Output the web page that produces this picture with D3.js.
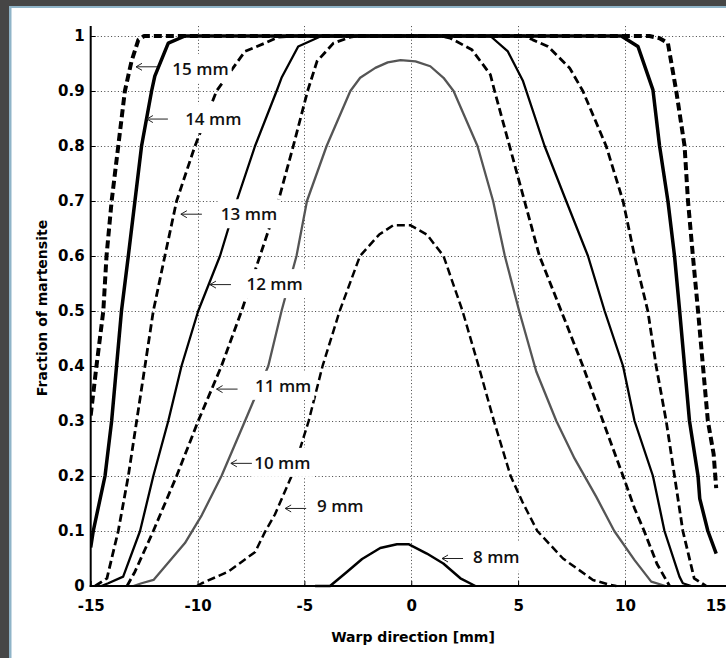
<!DOCTYPE html>
<html lang="en">
<head>
  <meta charset="UTF-8">
  <title>Fraction of martensite</title>
  <script src="https://d3js.org/d3.v7.min.js"></script>
  <style>
    body { margin: 0; background: #fff; }
    .tick text { font-family: 'DejaVu Sans', sans-serif; font-weight: bold; font-size: 15px; fill: #000; }
    .title { font-family: 'DejaVu Sans', sans-serif; font-weight: bold; font-size: 14px; fill: #000; }
    .lbl { font-family: 'Open Sans', sans-serif; font-weight: 600; font-size: 17px; fill: #111; }
  </style>
</head>
<body>
  <svg id="chart" width="726" height="658"></svg>
  <script>
    // curve data (x in mm, y = fraction)
    const x15 = [-15, -14.73, -14.41, -14.26, -14.02, -13.71, -13.4, -13.09, -12.77, -12.5, 11.15, 11.62, 12.01, 12.4, 12.79, 12.95, 13.18, 13.42, 13.65, 13.88, 14.15, 14.27];
    const y15 = [0.31, 0.4, 0.5, 0.6, 0.7, 0.8, 0.9, 0.954, 0.993, 1, 1, 0.996, 0.987, 0.9, 0.8, 0.7, 0.6, 0.5, 0.4, 0.3, 0.24, 0.178];

    const x14 = [-15, -14.88, -14.33, -14.02, -13.79, -13.56, -13.24, -12.93, -12.62, -12.15, -12.0, -11.37, -10.59, 9.83, 10.61, 11.31, 11.62, 12.01, 12.32, 12.56, 12.79, 13.02, 13.42, 13.5, 13.88, 14.27];
    const y14 = [0.07, 0.1, 0.2, 0.3, 0.4, 0.5, 0.6, 0.7, 0.8, 0.9, 0.927, 0.987, 1, 1, 0.981, 0.902, 0.8, 0.7, 0.6, 0.5, 0.4, 0.3, 0.2, 0.159, 0.1, 0.059];

    const x13 = [-14.79, -14.24, -13.71, -13.24, -12.85, -12.46, -12.07, -11.53, -10.98, -10.12, -9.11, -7.78, -6.85, -6.22, -5.5, 5.3, 5.69, 6.4, 7.41, 8.03, 9.12, 9.91, 10.45, 11.07, 11.46, 11.93, 12.32, 12.71, 13.24, 13.79];
    const y13 = [0, 0.014, 0.1, 0.2, 0.3, 0.4, 0.5, 0.6, 0.7, 0.8, 0.9, 0.972, 0.987, 0.998, 1, 1, 0.993, 0.981, 0.942, 0.9, 0.8, 0.7, 0.6, 0.5, 0.4, 0.3, 0.2, 0.1, 0.014, 0];

    const x12 = [-14.5, -14.18, -13.48, -12.69, -12.07, -11.37, -10.75, -9.97, -8.95, -8.17, -7.31, -6.3, -6.07, -5.29, -4.2, 3.7, 4.52, 5.23, 6.24, 7.25, 8.27, 9.05, 9.91, 10.45, 11.31, 11.85, 12.55, 12.71, 13.1];
    const y12 = [0, 0.005, 0.017, 0.1, 0.2, 0.3, 0.4, 0.5, 0.6, 0.7, 0.8, 0.9, 0.924, 0.981, 1, 1, 0.972, 0.918, 0.8, 0.7, 0.6, 0.5, 0.4, 0.3, 0.2, 0.1, 0.017, 0.005, 0];

    const x11 = [-13.3, -12.93, -12.07, -10.98, -9.97, -8.88, -7.94, -7.08, -6.22, -5.52, -4.85, -4.41, -3.64, -2.85, -2.5, 1.4, 1.83, 2.84, 3.7, 3.9, 4.6, 5.3, 6.0, 7.02, 8.03, 8.97, 9.91, 10.45, 10.9, 11.5, 12.09];
    const y11 = [0, 0.026, 0.1, 0.2, 0.3, 0.4, 0.5, 0.6, 0.7, 0.8, 0.9, 0.954, 0.987, 0.998, 1, 1, 0.996, 0.975, 0.93, 0.9, 0.8, 0.7, 0.6, 0.5, 0.4, 0.3, 0.2, 0.141, 0.1, 0.04, 0];

    const x10 = [-13.0, -12.62, -12.06, -10.59, -9.8, -8.88, -7.78, -6.69, -6.07, -5.37, -4.88, -3.96, -2.85, -2.39, -1.68, -1.1, -0.5, 0.2, 0.89, 1.51, 1.98, 3.1, 3.83, 4.38, 5.05, 5.85, 6.79, 7.64, 8.66, 9.5, 10.45, 11.23, 11.9];
    const y10 = [0, 0.005, 0.011, 0.078, 0.129, 0.2, 0.3, 0.4, 0.5, 0.6, 0.7, 0.8, 0.9, 0.924, 0.942, 0.952, 0.956, 0.954, 0.945, 0.924, 0.9, 0.8, 0.7, 0.6, 0.5, 0.39, 0.3, 0.232, 0.162, 0.1, 0.047, 0.008, 0];

    const x9 = [-10.03, -9.8, -8.56, -7.3, -6.85, -6.38, -5.6, -4.8, -4.15, -3.35, -2.4, -1.5, -0.84, -0.05, 0.73, 1.51, 2.4, 3.15, 3.87, 4.65, 5.2, 5.9, 7.1, 8.5, 9.3, 9.6];
    const y9 = [0, 0.005, 0.026, 0.062, 0.098, 0.13, 0.2, 0.3, 0.4, 0.5, 0.6, 0.639, 0.656, 0.656, 0.639, 0.6, 0.5, 0.4, 0.3, 0.2, 0.153, 0.1, 0.05, 0.011, 0.002, 0];

    const x8 = [-4.5, -3.8, -3.0, -2.3, -1.45, -0.67, -0.13, 0.73, 1.5, 2.3, 3.0];
    const y8 = [0, 0, 0.026, 0.049, 0.069, 0.076, 0.076, 0.059, 0.041, 0.014, 0];

    // annotation labels: arrow tip and text anchor (data units)
    const labelText = ['15 mm', '14 mm', '13 mm', '12 mm', '11 mm', '10 mm', '9 mm', '8 mm'];
    const tipX = [-12.88, -12.37, -10.78, -9.42, -9.11, -8.44, -5.90, 1.44];
    const tipY = [0.944, 0.849, 0.676, 0.548, 0.358, 0.223, 0.141, 0.050];
    const textX = [-11.18, -10.58, -8.91, -7.71, -7.31, -7.35, -4.41, 2.89];
    const textY = [0.929, 0.838, 0.665, 0.538, 0.353, 0.213, 0.135, 0.042];

    const xTicks = [-15, -10, -5, 0, 5, 10, 15];
    const yTicks = [0, 0.1, 0.2, 0.3, 0.4, 0.5, 0.6, 0.7, 0.8, 0.9, 1];

    const svg = d3.select('#chart');

    // window frame (dark edge + thin blue line)
    svg.append('rect').attr('x', 0).attr('y', 0).attr('width', 726).attr('height', 658).attr('fill', '#fff');
    svg.append('rect').attr('x', 0).attr('y', 0).attr('width', 726).attr('height', 6).attr('fill', '#464646');
    svg.append('rect').attr('x', 0).attr('y', 0).attr('width', 9).attr('height', 658).attr('fill', '#464646');
    svg.append('rect').attr('x', 9).attr('y', 6).attr('width', 717).attr('height', 2).attr('fill', '#8fb4c8');
    svg.append('rect').attr('x', 9).attr('y', 6).attr('width', 2.5).attr('height', 652).attr('fill', '#8fb4c8');

    const x = d3.scaleLinear().domain([-15, 15]).range([90.7, 731.8]);
    const y = d3.scaleLinear().domain([0, 1]).range([586, 36]);
    const yTop = y(1.018);

    // dotted grid
    const grid = svg.append('g').attr('stroke', '#444').attr('stroke-width', 1).attr('stroke-dasharray', '1,2.4');
    grid.selectAll('.vg').data(xTicks.filter(d => d > -15)).enter().append('line')
      .attr('x1', d => Math.round(x(d)) + 0.5).attr('x2', d => Math.round(x(d)) + 0.5)
      .attr('y1', yTop).attr('y2', y(0));
    grid.selectAll('.hg').data(yTicks.filter(d => d > 0)).enter().append('line')
      .attr('y1', d => Math.round(y(d)) + 0.5).attr('y2', d => Math.round(y(d)) + 0.5)
      .attr('x1', x(-15)).attr('x2', x(15));

    // curves
    const series = [
      { xs: x8, ys: y8, color: '#000', w: 2.5, dash: null },
      { xs: x9, ys: y9, color: '#000', w: 2.5, dash: '8,4' },
      { xs: x10, ys: y10, color: '#555', w: 2.3, dash: null },
      { xs: x11, ys: y11, color: '#000', w: 2.8, dash: '8,4' },
      { xs: x12, ys: y12, color: '#000', w: 2.3, dash: null },
      { xs: x13, ys: y13, color: '#000', w: 2.8, dash: '8,4' },
      { xs: x14, ys: y14, color: '#000', w: 3.5, dash: null },
      { xs: x15, ys: y15, color: '#000', w: 4, dash: '8,4' }
    ];

    svg.append('clipPath').attr('id', 'plotclip').append('rect')
      .attr('x', x(-15)).attr('y', 20).attr('width', x(15) - x(-15)).attr('height', 570);

    const line = d3.line().x(d => x(d[0])).y(d => y(d[1]));
    svg.append('g').attr('clip-path', 'url(#plotclip)')
      .selectAll('path').data(series).enter().append('path')
      .attr('d', s => line(s.xs.map((v, i) => [v, s.ys[i]])))
      .attr('fill', 'none')
      .attr('stroke', s => s.color)
      .attr('stroke-width', s => s.w)
      .attr('stroke-dasharray', s => s.dash)
      .attr('stroke-linejoin', 'round');

    // labels with white background and arrows
    const lg = svg.append('g');
    labelText.forEach((t, i) => {
      const g = lg.append('g');
      const bg = g.append('rect').attr('fill', '#fff');
      const txt = g.append('text').attr('class', 'lbl')
        .attr('x', x(textX[i])).attr('y', y(textY[i])).text(t);
      const bb = txt.node().getBBox();
      bg.attr('x', bb.x - 3).attr('y', bb.y - 3).attr('width', bb.width + 6).attr('height', bb.height + 6);

      const tx = x(tipX[i]), ty = y(tipY[i]);
      g.append('path')
        .attr('d', `M${tx},${ty}H${tx + 21}M${tx + 6},${ty - 3.5}L${tx},${ty}L${tx + 6},${ty + 3.5}`)
        .attr('fill', 'none').attr('stroke', '#222').attr('stroke-width', 1);
    });

    // axes
    const yAxis = d3.axisLeft(y).tickValues(yTicks).tickSize(-5).tickSizeOuter(0).tickPadding(6)
      .tickFormat(d => String(d));
    const gy = svg.append('g').attr('transform', `translate(${x(-15)},0)`).call(yAxis);
    gy.select('.domain').remove();
    gy.selectAll('.tick line').attr('stroke', '#000').attr('stroke-width', 1);

    const xAxis = d3.axisBottom(x).tickValues(xTicks).tickSize(-5).tickSizeOuter(0).tickPadding(14)
      .tickFormat(d => String(d));
    const gx = svg.append('g').attr('transform', `translate(0,${y(0)})`).call(xAxis);
    gx.select('.domain').remove();
    gx.selectAll('.tick line').attr('stroke', '#000').attr('stroke-width', 1);
    // last label sits at the window's right edge: keep it inside
    gx.selectAll('.tick text').filter(d => d === 15)
      .attr('text-anchor', 'end').attr('x', 726 - x(15));

    svg.append('line').attr('x1', x(-15)).attr('x2', x(-15)).attr('y1', yTop).attr('y2', y(0) + 1)
      .attr('stroke', '#000').attr('stroke-width', 2);
    svg.append('line').attr('x1', x(-15) - 1).attr('x2', x(15)).attr('y1', y(0)).attr('y2', y(0))
      .attr('stroke', '#000').attr('stroke-width', 2);

    // axis titles
    svg.append('text').attr('class', 'title')
      .attr('x', 413).attr('y', 642).attr('text-anchor', 'middle')
      .text('Warp direction [mm]');
    svg.append('text').attr('class', 'title')
      .attr('transform', 'translate(47,308) rotate(-90)').attr('text-anchor', 'middle')
      .text('Fraction of martensite');
  </script>
</body>
</html>
